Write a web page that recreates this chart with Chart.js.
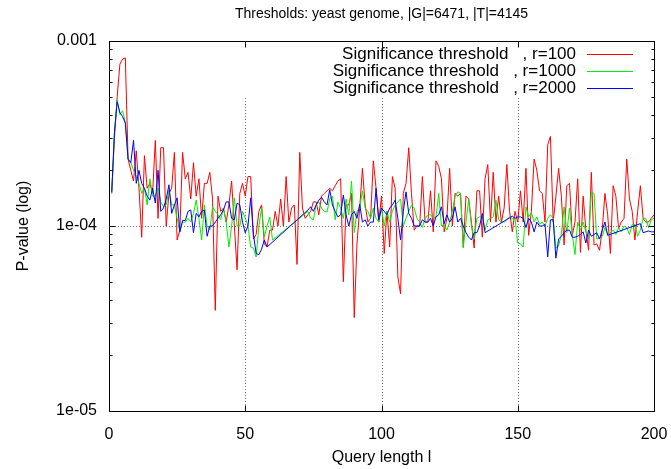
<!DOCTYPE html>
<html><head><meta charset="utf-8">
<script src="https://cdn.jsdelivr.net/npm/chart.js@4/dist/chart.umd.min.js"></script>
<style>html,body{margin:0;padding:0;background:#fff}#wrap{width:671px;height:469px;position:relative}</style>
</head><body><div id="wrap"><canvas id="c" width="671" height="469"></canvas></div>
<script>
const titleText = 'Thresholds: yeast genome, |G|=6471, |T|=4145';
const xTitle = 'Query length l';
const yTitle = 'P-value (log)';
const xTickValues = [0, 50, 100, 150, 200];
const yTickValues = [1e-5, 1e-4, 1e-3];
const yTickLabels = ['1e-05', '1e-04', '0.001'];
const seriesNames = ['Significance threshold   , r=100', 'Significance threshold   , r=1000', 'Significance threshold   , r=2000'];
const seriesColors = ['#ff0000', '#00ee00', '#0000ff'];
// query lengths l = 1..200
const queryLength = Array.from({length: 200}, (_, i) => i + 1);
// P-values in units of 1e-4 (null = no point, line continues straight)
const r100_e4 = [
 1.5,3.0,5.0,7.5,8.0,8.1,2.3,2.0,1.75,2.55,
 1.6,0.87,2.4,1.6,1.7,1.5,2.9,1.1,2.65,2.65,
 1.0,1.5,1.6,2.5,0.84,0.95,2.5,1.8,1.95,1.4,
 2.2,1.45,1.8,1.1,1.7,1.7,1.95,1.4,0.35,1.45,
 1.2,1.25,1.05,1.3,1.75,1.0,0.58,1.5,1.7,1.45,
 1.85,1.85,0.85,0.9,1.2,1.3,0.8,0.77,0.95,0.95,
 1.2,1.0,1.4,1.0,1.85,1.05,1.25,1.3,0.62,2.5,
 1.25,1.1,1.15,1.2,1.35,1.35,1.15,1.45,1.5,1.55,
 1.6,1.55,1.65,1.75,1.8,0.5,1.3,1.3,1.5,0.32,
 0.8,1.25,2.05,1.3,1.05,1.1,2.25,1.6,1.05,1.45,
 0.71,1.2,0.77,1.85,1.6,0.53,0.43,1.5,1.7,2.65,
 1.5,0.95,1.0,1.0,1.85,1.05,1.05,1.55,0.93,2.25,
 2.1,1.8,0.93,1.1,2.05,1.0,1.5,1.45,1.5,0.77,
 1.45,1.4,1.05,0.76,1.55,1.55,0.87,1.8,2.15,1.05,
 1.95,1.05,1.45,1.05,1.25,2.15,1.2,0.93,1.2,1.05,
 1.55,1.05,2.05,0.89,1.2,2.3,2.0,1.55,1.5,1.05,
 2.75,3.05,1.05,1.45,2.05,1.45,0.79,1.65,1.7,0.89,
 1.05,1.8,0.72,1.45,0.95,0.74,1.95,0.79,0.8,0.74,
 0.95,1.5,1.15,0.71,1.65,1.45,0.97,1.05,1.1,2.3,
 1.4,1.2,0.84,1.2,1.65,1.1,1.05,1.05,1.1,1.15];
const r1000_e4 = [
 1.5,3.2,4.8,4.0,4.2,3.6,2.3,2.2,2.0,1.85,
 1.7,1.5,1.6,1.3,1.8,1.45,1.45,1.6,1.35,1.27,
 1.3,1.57,1.3,1.3,1.1,0.93,1.05,1.05,1.1,1.05,
 1.17,1.38,1.1,0.84,1.3,1.0,0.95,1.27,1.2,1.15,
 1.08,1.25,1.05,0.77,1.0,1.42,1.0,1.0,1.2,1.1,
 1.0,0.77,0.76,0.68,1.0,1.25,0.87,1.0,1.12,0.84,
 null,null,null,null,null,null,null,null,null,null,
 null,null,1.2,1.1,1.08,1.3,1.35,1.25,1.2,1.19,
 1.4,1.45,1.08,1.35,1.25,1.1,1.4,1.15,1.75,0.92,
 1.2,1.25,1.55,1.25,1.2,1.1,1.25,1.1,1.05,1.25,
 1.0,1.2,1.05,1.2,1.3,1.35,1.4,1.0,1.1,1.2,
 1.3,1.25,1.1,1.05,0.98,1.1,1.15,1.15,1.1,1.12,
 1.5,1.0,1.02,0.95,1.05,1.2,1.45,1.53,1.5,0.76,
 1.05,1.4,1.0,0.85,1.1,1.12,1.12,0.95,1.08,1.1,
 1.12,1.38,1.08,1.05,1.05,1.08,1.12,1.1,1.1,0.81,
 0.8,0.77,1.27,1.12,1.18,1.05,1.12,1.02,1.05,1.0,
 1.1,1.15,1.1,0.76,0.78,0.9,1.27,0.92,1.25,0.9,
 0.7,1.05,0.95,1.05,0.93,0.85,1.53,1.5,0.85,0.86,
 0.88,0.98,0.9,0.92,0.95,0.9,0.98,0.93,1.0,0.98,
 0.9,1.02,1.02,0.88,0.95,1.1,1.1,0.98,1.08,1.1];
const r2000_e4 = [
 1.53,3.2,4.7,4.1,3.9,3.6,2.3,2.2,2.9,1.7,
 2.0,1.7,1.6,1.45,1.38,1.6,1.33,2.0,1.2,1.25,
 1.4,1.67,1.17,1.3,1.42,0.93,1.07,1.07,1.2,1.22,
 0.92,1.17,1.12,1.2,1.22,0.88,1.0,1.0,1.05,1.1,
 1.15,1.22,1.35,1.35,1.1,1.08,1.33,1.3,1.05,0.92,
 1.0,1.42,0.9,0.71,0.70,0.75,0.84,0.77,null,null,
 null,null,null,null,null,null,null,null,null,null,
 null,null,1.22,1.27,1.2,1.3,1.38,1.43,1.35,1.3,
 1.57,1.3,1.2,1.12,1.15,1.47,1.15,1.0,1.15,1.2,
 1.1,1.31,1.05,1.08,1.0,1.05,1.05,1.6,1.08,1.25,
 1.2,1.15,1.25,1.3,1.38,1.1,0.84,1.2,1.53,1.17,
 1.1,1.0,1.0,1.0,1.08,1.05,1.05,1.1,1.0,1.12,
 1.15,1.27,1.03,1.15,1.05,1.1,1.27,1.05,1.1,1.0,
 0.92,0.87,0.84,0.92,0.92,1.0,1.17,0.92,null,null,
 null,null,null,null,null,null,null,1.13,1.1,1.12,
 1.12,1.1,0.98,1.1,1.05,0.93,1.05,1.0,1.0,1.02,
 0.68,1.08,1.08,0.67,0.85,0.88,0.92,0.95,0.95,0.87,
 0.87,0.88,0.9,0.93,0.81,0.95,0.88,0.9,0.92,0.85,
 0.95,1.05,0.89,null,null,null,null,null,null,null,
 null,null,null,null,1.03,0.92,0.93,0.94,0.93,0.93];
const UNIT = 1e-4;
const seriesValues = [r100_e4, r1000_e4, r2000_e4];

const FONT = '"Liberation Sans", Arial, sans-serif';

function toPoints(arr) {
  return queryLength.map((x, i) => ({x: x, y: arr[i] === null ? null : arr[i] * UNIT}));
}

const framePlugin = {
  id: 'frame',
  beforeDatasetsDraw(chart) {
    const {ctx, chartArea: a, scales: {x, y}} = chart;
    ctx.save();
    ctx.strokeStyle = '#777';
    ctx.lineWidth = 1;
    ctx.setLineDash([1, 2]);
    const gridTop = 98;
    xTickValues.slice(1, -1).forEach(v => {
      const px = Math.round(x.getPixelForValue(v)) + 0.5;
      ctx.beginPath(); ctx.moveTo(px, a.bottom); ctx.lineTo(px, gridTop); ctx.stroke();
    });
    const py = Math.round(y.getPixelForValue(1e-4)) + 0.5;
    ctx.beginPath(); ctx.moveTo(a.left, py); ctx.lineTo(a.right, py); ctx.stroke();
    ctx.restore();
  },
  afterDatasetsDraw(chart) {
    const {ctx, chartArea: a, scales: {x, y}} = chart;
    ctx.save();
    ctx.strokeStyle = '#000';
    ctx.lineWidth = 1;
    ctx.setLineDash([]);
    const L = Math.round(a.left) + 0.5, R = Math.round(a.right) + 0.5;
    const T = Math.round(a.top) + 0.5, B = Math.round(a.bottom) + 0.5;
    ctx.strokeRect(L, T, R - L, B - T);
    ctx.beginPath();
    xTickValues.forEach(v => {
      const px = Math.round(x.getPixelForValue(v)) + 0.5;
      ctx.moveTo(px, B); ctx.lineTo(px, B - 6);
      ctx.moveTo(px, T); ctx.lineTo(px, T + 6);
    });
    yTickValues.forEach(v => {
      const py = Math.round(y.getPixelForValue(v)) + 0.5;
      ctx.moveTo(L, py); ctx.lineTo(L + 6, py);
      ctx.moveTo(R, py); ctx.lineTo(R - 6, py);
    });
    [1e-5, 1e-4].forEach(d => {
      for (let k = 2; k <= 9; k++) {
        const py = Math.round(y.getPixelForValue(k * d)) + 0.5;
        ctx.moveTo(L, py); ctx.lineTo(L + 3, py);
        ctx.moveTo(R, py); ctx.lineTo(R - 3, py);
      }
    });
    ctx.stroke();
    // key
    ctx.font = '17px ' + FONT;
    ctx.fillStyle = '#000';
    ctx.textAlign = 'right';
    ctx.textBaseline = 'middle';
    const rows = [54, 71, 88];
    seriesNames.forEach((n, i) => {
      ctx.fillText(n, 576, rows[i]);
      ctx.strokeStyle = seriesColors[i];
      ctx.beginPath();
      ctx.moveTo(587, rows[i] + 0.5); ctx.lineTo(633, rows[i] + 0.5);
      ctx.stroke();
    });
    ctx.restore();
  }
};

new Chart(document.getElementById('c').getContext('2d'), {
  type: 'line',
  data: {
    datasets: seriesValues.map((arr, i) => ({
      label: seriesNames[i],
      data: toPoints(arr),
      borderColor: seriesColors[i],
      backgroundColor: seriesColors[i],
      borderWidth: 1,
      pointRadius: 0,
      tension: 0,
      fill: false,
      spanGaps: true,
      order: 3 - i
    }))
  },
  options: {
    responsive: false,
    animation: false,
    layout: {padding: {left: 0, right: 17, top: 0, bottom: 0}},
    plugins: {
      legend: {display: false},
      tooltip: {enabled: false},
      title: {
        display: true, text: titleText, color: '#000', fullSize: false,
        font: {family: FONT, size: 14, weight: 'normal', lineHeight: 1.2},
        padding: {top: 6, bottom: 18.2}
      }
    },
    scales: {
      x: {
        type: 'linear', min: 0, max: 200,
        afterBuildTicks: s => { s.ticks = xTickValues.map(v => ({value: v})); },
        afterFit: s => { s.height = 58; s.paddingLeft = 0; s.paddingRight = 0; },
        grid: {display: false, drawTicks: false},
        border: {display: false},
        ticks: {color: '#000', padding: 14, maxRotation: 0, font: {family: FONT, size: 16}},
        title: {display: true, text: xTitle, color: '#000', font: {family: FONT, size: 16}, padding: {top: 0, bottom: 2}}
      },
      y: {
        type: 'logarithmic', min: 1e-5, max: 1e-3,
        afterBuildTicks: s => { s.ticks = yTickValues.map(v => ({value: v})); },
        afterFit: s => { s.width = 109; },
        grid: {display: false, drawTicks: false},
        border: {display: false},
        ticks: {color: '#000', padding: 12, font: {family: FONT, size: 16},
          callback: (v, i) => yTickLabels[i]},
        title: {display: true, text: yTitle, color: '#000', font: {family: FONT, size: 16}, padding: {top: 14, bottom: 0}}
      }
    }
  },
  plugins: [framePlugin]
});
</script></body></html>
